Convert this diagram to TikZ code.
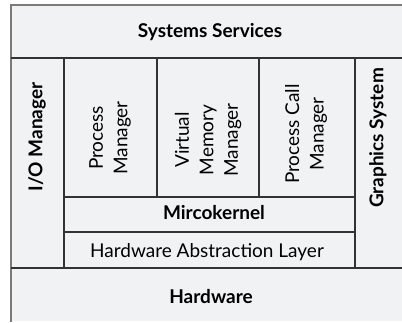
\documentclass[tikz,border=0pt]{standalone}
\usepackage{fontspec}
\setmainfont{Lato}
\usetikzlibrary{positioning}
\definecolor{paneGray}{HTML}{F1F2F4}
\definecolor{rimGray}{HTML}{7A7A7A}
\definecolor{lineDark}{HTML}{333333}
\tikzstyle{layer} = [font=\bfseries\fontsize{19}{22}\selectfont, inner sep=0pt]
\tikzstyle{part} = [font=\fontsize{19}{24.5}\selectfont, align=center, inner sep=0pt]
\tikzstyle{sep} = [draw=lineDark, line width=1.1pt]

\begin{document}
\begin{tikzpicture}[x=1pt, y=-1pt]
    \useasboundingbox (0,0) rectangle (402,322);
    \fill[paneGray] (11,5) rectangle (402,321);
    \draw[rimGray, line width=2pt] (11,322) -- (11,5) -- (402,5);

    % layers
    \node[layer, anchor=base] (sys) at (210,37) {Systems Services};
    \node[layer, anchor=base] (mk) at (214,219) {Mircokernel};
    \node[part, anchor=base] (hal) at (207,257) {Hardware Abstraction Layer};
    \node[layer, anchor=base] (hw) at (211,303) {Hardware};
    \node[layer, rotate=90] (io) at (37,137) {I/O Manager};
    \node[layer, rotate=90] (gfx) at (378,138) {Graphics System};

    % managers
    \node[part, rotate=90] (pm) at (110,138) {Process\\Manager};
    \node[part, rotate=90] (vmm) at (208,140) {Virtual\\Memory\\Manager};
    \node[part, rotate=90] (pcm) at (306,134) {Process Call\\Manager};

    \draw[sep] (11,58) -- (402,58);
    \draw[sep] (64,58) -- (64,268);
    \draw[sep] (355,58) -- (355,268);
    \draw[sep] (157,58) -- (157,197);
    \draw[sep] (259,58) -- (259,197);
    \draw[sep] (64,197) -- (355,197);
    \draw[sep] (64,232) -- (355,232);
    \draw[sep, line width=1.5pt] (11,268) -- (402,268);
\end{tikzpicture}
\end{document}
